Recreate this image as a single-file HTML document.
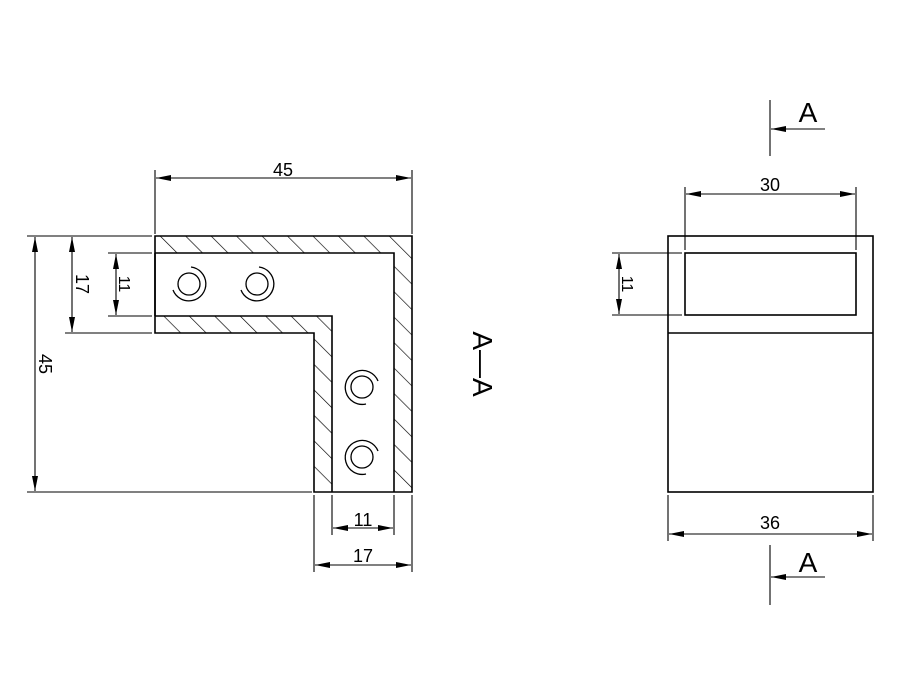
<!DOCTYPE html>
<html><head><style>body{margin:0;background:#fff}svg{display:block}text{font-family:"Liberation Sans",sans-serif;fill:#000}</style></head>
<body>
<svg width="900" height="700" viewBox="0 0 900 700" xmlns="http://www.w3.org/2000/svg">
<defs>
<pattern id="h" patternUnits="userSpaceOnUse" width="18" height="18" patternTransform="rotate(-45)">
<line x1="0" y1="0" x2="0" y2="18" stroke="#000" stroke-width="1.3"/>
</pattern>
<marker id="a" viewBox="0 0 10 4" refX="10" refY="2" markerWidth="16" markerHeight="6" orient="auto-start-reverse" markerUnits="userSpaceOnUse"><path d="M0,0L10,2L0,4z" fill="#000"/></marker>
</defs>
<g stroke="#000" stroke-width="1.6" fill="none">
<path d="M155,236H412V492H314V333H155Z M155,253H394V492H332V316H155Z" fill="url(#h)" fill-rule="evenodd" stroke="none"/>
<path d="M155,236H412V492H314V333H155Z"/>
<path d="M155,253H394V492M332,492V316H155"/>
<line x1="155" y1="253" x2="155" y2="316"/>
<g stroke-width="1.3">
<circle cx="189" cy="284" r="11"/><path d="M191,267A17,17 0 1 1 173,290"/>
<circle cx="257" cy="284" r="11"/><path d="M259,267A17,17 0 1 1 241,290"/>
<circle cx="362" cy="387" r="11"/><path d="M378,381A17,17 0 1 0 366,404"/>
<circle cx="362" cy="457" r="11"/><path d="M378,451A17,17 0 1 0 366,474"/>
</g>
<g stroke-width="1.1">
<line x1="155" y1="170" x2="155" y2="234"/><line x1="412" y1="170" x2="412" y2="234"/>
<line x1="156" y1="178" x2="411" y2="178" marker-start="url(#a)" marker-end="url(#a)"/>
<line x1="27" y1="236" x2="152" y2="236"/><line x1="27" y1="492" x2="312" y2="492"/>
<line x1="35" y1="237" x2="35" y2="491" marker-start="url(#a)" marker-end="url(#a)"/>
<line x1="65" y1="333" x2="152" y2="333"/>
<line x1="72" y1="237" x2="72" y2="332" marker-start="url(#a)" marker-end="url(#a)"/>
<line x1="108" y1="253" x2="152" y2="253"/><line x1="108" y1="316" x2="152" y2="316"/>
<line x1="116" y1="254" x2="116" y2="315" marker-start="url(#a)" marker-end="url(#a)"/>
<line x1="314" y1="495" x2="314" y2="572"/><line x1="332" y1="495" x2="332" y2="535"/>
<line x1="394" y1="495" x2="394" y2="535"/><line x1="412" y1="495" x2="412" y2="572"/>
<line x1="333" y1="528" x2="393" y2="528" marker-start="url(#a)" marker-end="url(#a)"/>
<line x1="315" y1="565" x2="411" y2="565" marker-start="url(#a)" marker-end="url(#a)"/>
<line x1="685" y1="187" x2="685" y2="250"/><line x1="856" y1="187" x2="856" y2="250"/>
<line x1="686" y1="194" x2="855" y2="194" marker-start="url(#a)" marker-end="url(#a)"/>
<line x1="612" y1="253" x2="682" y2="253"/><line x1="612" y1="315" x2="682" y2="315"/>
<line x1="619" y1="254" x2="619" y2="314" marker-start="url(#a)" marker-end="url(#a)"/>
<line x1="668" y1="495" x2="668" y2="541"/><line x1="873" y1="495" x2="873" y2="541"/>
<line x1="669" y1="534" x2="872" y2="534" marker-start="url(#a)" marker-end="url(#a)"/>
<line x1="770" y1="100" x2="770" y2="156"/><line x1="825" y1="129" x2="771" y2="129" marker-end="url(#a)"/>
<line x1="770" y1="545" x2="770" y2="605"/><line x1="825" y1="577" x2="771" y2="577" marker-end="url(#a)"/>
</g>
<rect x="668" y="236" width="205" height="256"/>
<line x1="668" y1="333" x2="873" y2="333"/>
<rect x="685" y="253" width="171" height="62"/>
</g>
<g font-size="18" text-anchor="middle">
<text x="283" y="176">45</text>
<text x="363" y="526">11</text>
<text x="363" y="562">17</text>
<text x="770" y="191">30</text>
<text x="770" y="529">36</text>
<text transform="translate(39,364) rotate(90)">45</text>
<text transform="translate(76,284) rotate(90)">17</text>
<text transform="translate(119,284) rotate(90)" font-size="16">11</text>
<text transform="translate(622,284) rotate(90)" font-size="16">11</text>
<text x="808" y="122" font-size="28">A</text>
<text x="808" y="572" font-size="28">A</text>
<text transform="translate(473,364) rotate(90)" font-size="28">A—A</text>
</g>
</svg>
</body></html>
